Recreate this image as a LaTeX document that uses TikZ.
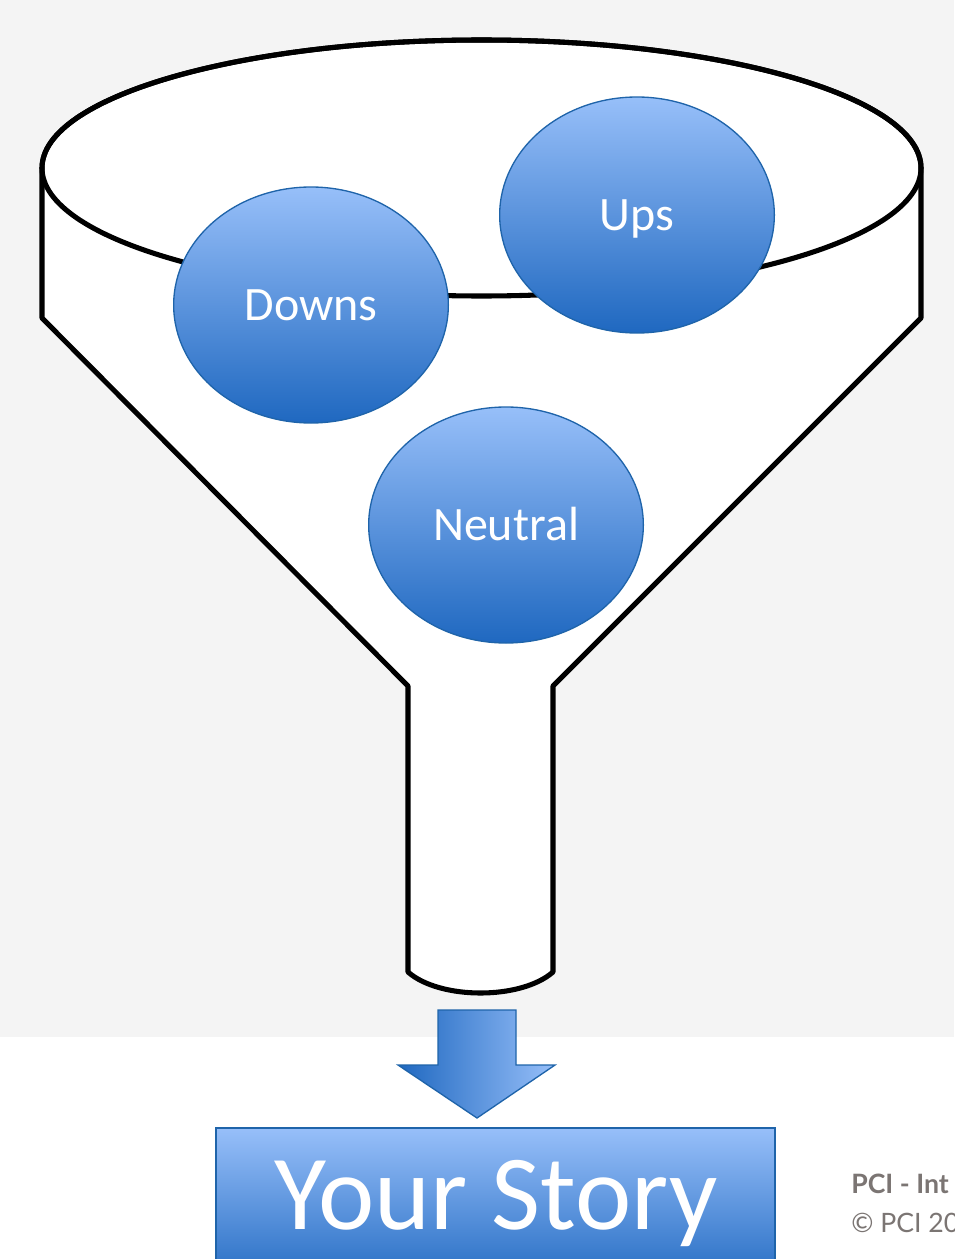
\documentclass[tikz,border=0pt]{standalone}
\usepackage{fontspec}
\setmainfont{Carlito}
\newfontfamily\pcifont{Lato}
\usetikzlibrary{shapes.geometric}
\definecolor{bg}{HTML}{F4F4F4}
\definecolor{blueTop}{HTML}{97BFF9}
\definecolor{blueBot}{HTML}{1F68C0}
\definecolor{blueEdge}{HTML}{1F64AA}
\definecolor{pcigray}{HTML}{7B7573}
\tikzset{
  funnel/.style={draw=black, line width=3.8pt, line join=round},
  bubble/.style={ellipse, draw=blueEdge, line width=1pt, top color=blueTop, bottom color=blueBot,
    minimum width=206pt, minimum height=177pt, text=white, font=\fontsize{36}{38}\selectfont,
    text height=23pt, text depth=0pt, inner sep=0pt},
  storybox/.style={draw=blueEdge, line width=1pt, top color=blueTop, bottom color=blueBot},
  arrowshape/.style={draw=blueEdge, line width=1pt, left color=blueBot, right color=blueTop},
  pci/.style={text=pcigray, anchor=base west, inner sep=0pt, font=\pcifont\fontsize{20}{22}\selectfont}
}
\begin{document}
\begin{tikzpicture}[x=0.75pt,y=-0.75pt]
\useasboundingbox (0,0) rectangle (954,1259);
\fill[bg] (0,0) rectangle (954,1037);
\fill[white] (0,1037) rectangle (954,1259);
% funnel outline
\draw[funnel, fill=white] (42,168) -- (42,318) -- (408,686) -- (408,972)
  .. controls (440,1000) and (521,1000) .. (553,972) -- (553,686) -- (921,318) -- (921,168)
  arc[start angle=0, end angle=-180, x radius=439.5, y radius=128] -- cycle;
\draw[funnel] (481.5,168) ellipse[x radius=439.5, y radius=128];
% bubbles
\node[bubble] (downs) at (311,305) {Downs};
\node[bubble] (ups) at (637,215) {Ups};
\node[bubble] (neutral) at (506,525) {Neutral};
% arrow
\path[arrowshape] (438,1010) -- (516,1010) -- (516,1065) -- (555,1065) -- (477,1118)
  -- (398,1065) -- (438,1065) -- cycle;
% story box
\path[storybox] (216,1128) rectangle (775,1290);
\node[anchor=base, inner sep=0pt, text=white, font=\fontsize{80}{82}\selectfont] (story) at (496,1229) {Your Story};
% footer
\node[pci, font=\pcifont\bfseries\fontsize{20}{22}\selectfont] (pci1) at (851,1193) {PCI - Int};
\node[pci] (pci2) at (851,1232) {© PCI 20};
\end{tikzpicture}
\end{document}
